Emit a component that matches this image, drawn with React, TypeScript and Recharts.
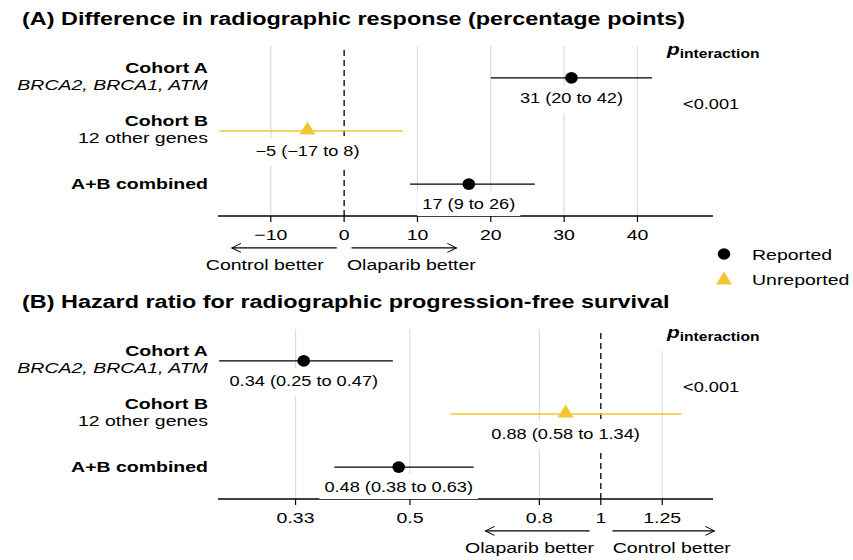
import React from 'react';
import {
  ScatterChart,
  Scatter,
  XAxis,
  YAxis,
  ErrorBar,
  ReferenceLine,
  Legend,
} from 'recharts';

// ---------- data ----------
const rowKeys = [3, 2, 1];
const rowTitles = ['Cohort A', 'Cohort B', 'A+B combined'];
const rowSubtitles = ['BRCA2, BRCA1, ATM', '12 other genes', ''];
const rowSubItalic = [true, false, false];
const rowStatus = ['Reported', 'Unreported', 'Reported'];

const respEstimate = [31, -5, 17];
const respLower = [20, -17, 9];
const respUpper = [42, 8, 26];
const respLabels = ['31 (20 to 42)', '\u22125 (\u221217 to 8)', '17 (9 to 26)'];
const respTicks = [-10, 0, 10, 20, 30, 40];
const respGrid = [-10, 10, 20, 30, 40];

const hrEstimate = [0.34, 0.88, 0.48];
const hrLower = [0.25, 0.58, 0.38];
const hrUpper = [0.47, 1.34, 0.63];
const hrLabels = ['0.34 (0.25 to 0.47)', '0.88 (0.58 to 1.34)', '0.48 (0.38 to 0.63)'];
const hrTicks = [0.33, 0.5, 0.8, 1, 1.25];
const hrGrid = [0.33, 0.5, 0.8, 1.25];

const pInteraction = ['<0.001', '<0.001'];
const statusNames = ['Reported', 'Unreported'];

// ---------- styles ----------
const FONT = '"Liberation Sans", Arial, Helvetica, sans-serif';
const SX = 1.3;
const YELLOW = '#F2C62F';
const GRIDC = '#DEDEDE';
const statusColors = ['#000000', YELLOW];

const CW: Record<string, number> = { ' ': 0.278, '(': 0.333, ')': 0.333, '.': 0.278, '\u2212': 0.584, t: 0.278, o: 0.556 };
const textWidth = (s: string, size: number) =>
  Array.from(s).reduce((a, c) => a + (CW[c] ?? 0.556), 0) * size * SX;

function buildRows(est: number[], lo: number[], hi: number[], labels: string[]) {
  return rowKeys.map((row, i) => ({
    row,
    est: est[i],
    err: [est[i] - lo[i], hi[i] - est[i]],
    label: labels[i],
    status: rowStatus[i],
  }));
}

const drawMarker = (status: string, cx: number, cy: number) =>
  status === 'Reported' ? (
    <ellipse cx={cx} cy={cy} rx={6.3} ry={5.8} fill="#000" />
  ) : (
    <polygon points={`${cx},${cy - 9.5} ${cx - 8},${cy + 3.5} ${cx + 8},${cy + 3.5}`} fill={YELLOW} />
  );

const makePointShape = (status: string) => (props: any) => {
  const { cx, cy, payload } = props;
  if (cx == null || cy == null || !payload) return <g />;
  const w = textWidth(payload.label, 14) + 10;
  return (
    <g>
      <rect x={cx - w / 2} y={cy + 7} width={w} height={28} fill="#fff" />
      <text x={cx} y={cy + 25} textAnchor="middle" fontSize={14} fill="#000" fontFamily={FONT} className="sx-c">
        {payload.label}
      </text>
      {drawMarker(status, cx, cy)}
    </g>
  );
};

const makeArrowShape = (text: string, dx: number, tipLeft: boolean) => (p: any) => {
  const { x1, y1, x2, y2 } = p;
  if (x1 == null) return <g />;
  const lo = Math.min(x1, x2);
  const hi = Math.max(x1, x2);
  const y = (y1 + y2) / 2;
  const tip = tipLeft ? lo : hi;
  const d = tipLeft ? 1 : -1;
  return (
    <g>
      <line x1={lo} y1={y} x2={hi} y2={y} stroke="#000" strokeWidth={1.2} />
      <polyline
        points={`${tip + d * 9},${y - 4.5} ${tip},${y} ${tip + d * 9},${y + 4.5}`}
        fill="none"
        stroke="#000"
        strokeWidth={1.1}
      />
      <text x={(lo + hi) / 2 + dx} y={y + 22} textAnchor="middle" fontSize={15} fill="#000" fontFamily={FONT} className="sx-c">
        {text}
      </text>
    </g>
  );
};

const RowTick = (props: any) => {
  const { x, y, payload } = props;
  const i = rowKeys.indexOf(payload.value);
  if (i < 0) return <g />;
  const sub = rowSubtitles[i];
  if (!sub) {
    return (
      <text x={x} y={y + 5} textAnchor="end" fontWeight="bold" fontSize={15} fill="#000" fontFamily={FONT} className="sx-r">
        {rowTitles[i]}
      </text>
    );
  }
  return (
    <g>
      <text x={x} y={y - 5} textAnchor="end" fontWeight="bold" fontSize={15} fill="#000" fontFamily={FONT} className="sx-r">
        {rowTitles[i]}
      </text>
      <text
        x={x}
        y={y + 12}
        textAnchor="end"
        fontStyle={rowSubItalic[i] ? 'italic' : 'normal'}
        fontSize={15}
        fill="#000"
        fontFamily={FONT}
        className="sx-r"
      >
        {sub}
      </text>
    </g>
  );
};

const LegendBox = () => (
  <svg width={148} height={55} style={{ overflow: 'visible' }}>
    {statusNames.map((name, i) => (
      <g key={name}>
        {drawMarker(name, 19, i === 0 ? 14 : 41)}
        <text x={47} y={i === 0 ? 20 : 45.5} fontSize={15} fill="#000" fontFamily={FONT} className="sx-l">
          {name}
        </text>
      </g>
    ))}
  </svg>
);

type ArrowSpec = { from: number; to: number; text: string; dx: number; tipLeft: boolean };

type PanelProps = {
  top: number;
  title: string;
  est: number[];
  lo: number[];
  hi: number[];
  labels: string[];
  domain: [number, number];
  log: boolean;
  ticks: number[];
  grid: number[];
  nullValue: number;
  arrows: ArrowSpec[];
  pValue: string;
  showLegend: boolean;
};

const fmtTick = (v: number) => (v < 0 ? '\u2212' + Math.abs(v) : String(v));

function Panel(p: PanelProps) {
  const rows = buildRows(p.est, p.lo, p.hi, p.labels);
  const reported = rows.filter((r) => r.status === 'Reported');
  const unreported = rows.filter((r) => r.status === 'Unreported');
  return (
    <div style={{ position: 'absolute', left: 0, top: p.top, width: 853, height: 280 }}>
      <ScatterChart
        width={853}
        height={280}
        margin={{ top: 46, right: 140, bottom: 0, left: 0 }}
        style={{ fontFamily: FONT }}
      >
        <XAxis
          type="number"
          dataKey="est"
          scale={p.log ? 'log' : 'linear'}
          domain={p.domain}
          allowDataOverflow
          ticks={p.ticks}
          interval={0}
          tickFormatter={fmtTick}
          tickSize={6}
          tickMargin={7}
          stroke="#000"
          axisLine={{ stroke: '#000', strokeWidth: 1.4 }}
          tickLine={{ stroke: '#000', strokeWidth: 1.2 }}
          tick={{ fontSize: 15, fill: '#000', fontFamily: FONT }}
          height={64}
        />
        <YAxis
          type="number"
          dataKey="row"
          domain={[0.4, 3.6]}
          allowDataOverflow
          ticks={rowKeys}
          interval={0}
          axisLine={false}
          tickLine={false}
          tickSize={0}
          tickMargin={10}
          width={218}
          tick={<RowTick />}
        />
        {p.grid.map((g) => (
          <ReferenceLine key={'g' + g} x={g} stroke={GRIDC} strokeWidth={1.3} />
        ))}
        <ReferenceLine x={p.nullValue} stroke="#000" strokeWidth={1.3} strokeDasharray="6 4" />
        {p.arrows.map((a, i) => (
          <ReferenceLine
            key={i}
            segment={[
              { x: a.from, y: -0.2 },
              { x: a.to, y: -0.2 },
            ]}
            ifOverflow="visible"
            shape={makeArrowShape(a.text, a.dx, a.tipLeft)}
          />
        ))}
        <Scatter
          name={statusNames[0]}
          data={reported}
          fill={statusColors[0]}
          legendType="circle"
          isAnimationActive={false}
          shape={makePointShape('Reported')}
        >
          <ErrorBar dataKey="err" direction="x" width={0} stroke="#000" strokeWidth={1.3} isAnimationActive={false} />
        </Scatter>
        <Scatter
          name={statusNames[1]}
          data={unreported}
          fill={statusColors[1]}
          legendType="triangle"
          isAnimationActive={false}
          shape={makePointShape('Unreported')}
        >
          <ErrorBar dataKey="err" direction="x" width={0} stroke={YELLOW} strokeWidth={1.5} isAnimationActive={false} />
        </Scatter>
        {p.showLegend && (
          <Legend
            layout="vertical"
            align="center"
            verticalAlign="middle"
            wrapperStyle={{ position: 'absolute', left: 705, top: 240, width: 148, height: 55 }}
            content={() => <LegendBox />}
          />
        )}
      </ScatterChart>
      <div
        style={{
          position: 'absolute',
          left: 22,
          top: 9,
          fontSize: 18,
          fontWeight: 'bold',
          lineHeight: '20px',
          whiteSpace: 'nowrap',
          transform: `scaleX(${SX})`,
          transformOrigin: '0 0',
          color: '#000',
        }}
      >
        {p.title}
      </div>
      <div style={{ position: 'absolute', left: 655, top: 46, width: 100, height: 22, background: '#fff' }} />
      <div
        style={{
          position: 'absolute',
          left: 667,
          top: 39.5,
          lineHeight: '20px',
          whiteSpace: 'nowrap',
          transform: `scaleX(${SX})`,
          transformOrigin: '0 0',
          color: '#000',
          fontWeight: 'bold',
        }}
      >
        <span style={{ fontSize: 16, fontStyle: 'italic' }}>p</span>
        <span style={{ fontSize: 12, verticalAlign: '-3px' }}>interaction</span>
      </div>
      <div
        style={{
          position: 'absolute',
          left: 683,
          top: 94,
          lineHeight: '20px',
          fontSize: 14,
          whiteSpace: 'nowrap',
          transform: `scaleX(${SX})`,
          transformOrigin: '0 0',
          color: '#000',
        }}
      >
        {p.pValue}
      </div>
    </div>
  );
}

const css = `
.sx-c, .recharts-cartesian-axis-tick-value { transform-box: fill-box; transform-origin: 50% 50%; transform: scaleX(${SX}); }
.sx-r { transform-box: fill-box; transform-origin: 100% 50%; transform: scaleX(${SX}); }
.sx-l { transform-box: fill-box; transform-origin: 0% 50%; transform: scaleX(${SX}); }
`;

export default function App() {
  return (
    <div
      style={{
        position: 'absolute',
        left: 0,
        top: 0,
        width: 853,
        height: 560,
        background: '#fff',
        fontFamily: FONT,
        overflow: 'hidden',
      }}
    >
      <style>{css}</style>
      <Panel
        top={0}
        title="(A) Difference in radiographic response (percentage points)"
        est={respEstimate}
        lo={respLower}
        hi={respUpper}
        labels={respLabels}
        domain={[-17.2, 50.3]}
        log={false}
        ticks={respTicks}
        grid={respGrid}
        nullValue={0}
        arrows={[
          { from: -1, to: -15.3, text: 'Control better', dx: -19.5, tipLeft: true },
          { from: 1, to: 15.3, text: 'Olaparib better', dx: 7.5, tipLeft: false },
        ]}
        pValue={pInteraction[0]}
        showLegend
      />
      <Panel
        top={283}
        title="(B) Hazard ratio for radiographic progression-free survival"
        est={hrEstimate}
        lo={hrLower}
        hi={hrUpper}
        labels={hrLabels}
        domain={[0.249, 1.503]}
        log
        ticks={hrTicks}
        grid={hrGrid}
        nullValue={1}
        arrows={[
          { from: 0.96, to: 0.658, text: 'Olaparib better', dx: -8, tipLeft: true },
          { from: 1.043, to: 1.51, text: 'Control better', dx: 8.5, tipLeft: false },
        ]}
        pValue={pInteraction[1]}
        showLegend={false}
      />
    </div>
  );
}
